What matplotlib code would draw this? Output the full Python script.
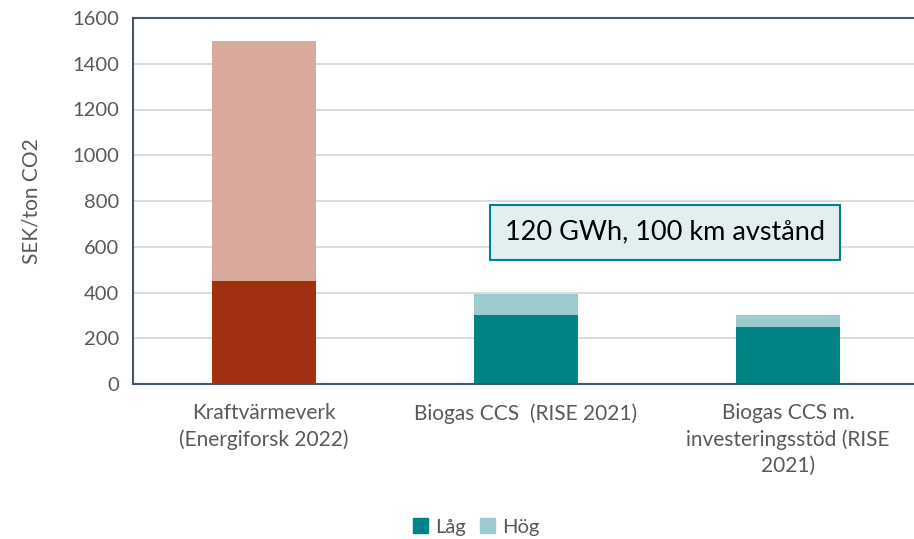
import numpy as np
import matplotlib.pyplot as plt
from matplotlib.patches import Patch

categories = ["Kraftvärmeverk\n(Energiforsk 2022)",
              "Biogas CCS  (RISE 2021)",
              "Biogas CCS m.\ninvesteringsstöd (RISE\n2021)"]
lag = [450, 300, 250]
hog = [1500, 395, 300]
yticks = [0, 200, 400, 600, 800, 1000, 1200, 1400, 1600]

# färger: första stapeln har egna färger
lag_colors = ["#A03010", "#008385", "#008385"]
hog_colors = ["#D9AA9C", "#9BCBCE", "#9BCBCE"]

plt.rcParams['font.family'] = ['Lato', 'DejaVu Sans']

W, H = 914, 539
fig = plt.figure(figsize=(W / 100, H / 100), dpi=100)
ax = fig.add_axes([133 / W, 1 - 384 / H, (919 - 133) / W, (384 - 18) / H])

x = np.arange(len(categories))
diff = np.array(hog) - np.array(lag)
ax.bar(x, lag, width=0.4, color=lag_colors, zorder=2)
ax.bar(x, diff, bottom=lag, width=0.4, color=hog_colors, zorder=2)

ax.set_xlim(-0.5, 2.5)
ax.set_ylim(0, 1600)
ax.set_yticks(yticks)
ax.yaxis.grid(True, color="#D9D9D9", linewidth=1.3, zorder=0)
ax.set_axisbelow(True)
ax.tick_params(axis='both', length=0, labelsize=14.5, colors="#595959")
ax.tick_params(axis='y', pad=10)
ax.set_xticks(x)
ax.set_xticklabels(categories, linespacing=1.35, fontsize=15)
ax.tick_params(axis='x', pad=14)
ax.set_ylabel("SEK/ton CO2", fontsize=15, color="#595959", labelpad=22)

for s in ["left", "top", "bottom", "right"]:
    ax.spines[s].set_color("#44546A")
    ax.spines[s].set_linewidth(1.5)

# textruta
ax.text(1.53, 664, "120 GWh, 100 km avstånd", fontsize=19.5, color="black",
        ha="center", va="center", zorder=3,
        bbox=dict(boxstyle="square,pad=0.55", facecolor="#E2EEF0",
                  edgecolor="#008385", linewidth=1.5))

# legend
handles = [Patch(color="#008385", label="Låg"), Patch(color="#9BCBCE", label="Hög")]
fig.legend(handles=handles, loc="center", bbox_to_anchor=(476 / W, 1 - 527 / H),
           ncol=2, frameon=False, fontsize=14.5, handlelength=0.75, handleheight=0.75,
           handletextpad=0.35, columnspacing=0.7, labelcolor="#595959")

fig.savefig("out.png", dpi=100)
